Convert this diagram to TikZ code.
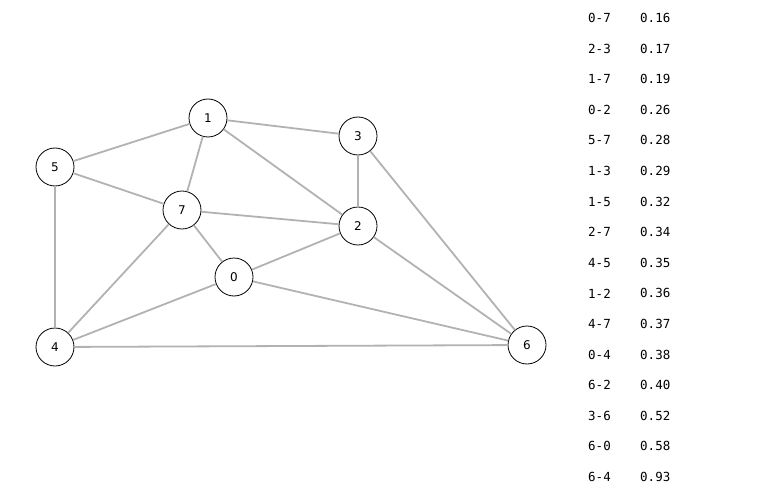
\documentclass[tikz,border=0pt]{standalone}
\usepackage{fontspec}
\setmainfont{DejaVu Sans}
\newfontfamily\monof{DejaVu Sans Mono}
\begin{document}
\begin{tikzpicture}[x=1pt,y=-1pt,
  vert/.style={circle,draw,thick,fill=white,minimum size=38pt,inner sep=0pt,font=\fontsize{12}{12}\selectfont},
  edge/.style={draw=black!30,line width=1.8pt},
  row/.style={anchor=west,font=\monof\fontsize{12.5}{13}\selectfont,inner sep=0pt}]
\useasboundingbox (0,0) rectangle (784,500);
\node[vert] (n1) at (208,118) {1};
\node[vert] (n3) at (358,136) {3};
\node[vert] (n5) at (55,167) {5};
\node[vert] (n7) at (182,210) {7};
\node[vert] (n2) at (358,226) {2};
\node[vert] (n0) at (234,277) {0};
\node[vert] (n4) at (55,347) {4};
\node[vert] (n6) at (527,345) {6};
\begin{scope}[on background layer/.try]
\end{scope}
\foreach \a/\b in {5/1,1/3,1/7,1/2,3/2,3/6,5/7,7/2,7/0,5/4,7/4,0/2,0/4,0/6,2/6,4/6}
  \draw[edge] (n\a) -- (n\b);
\foreach \i/\e/\w in {0/0-7/0.16,1/2-3/0.17,2/1-7/0.19,3/0-2/0.26,4/5-7/0.28,5/1-3/0.29,6/1-5/0.32,7/2-7/0.34,8/4-5/0.35,9/1-2/0.36,10/4-7/0.37,11/0-4/0.38,12/6-2/0.40,13/3-6/0.52,14/6-0/0.58,15/6-4/0.93}{
  \node[row] (e\i) at (588,{18+30.6*\i}) {\e};
  \node[row] (w\i) at (640,{18+30.6*\i}) {\w};
}
\end{tikzpicture}
\end{document}
